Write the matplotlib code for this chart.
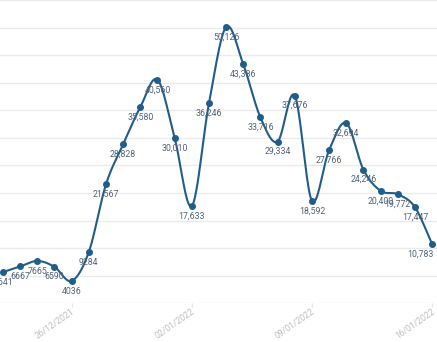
import numpy as np
import matplotlib.pyplot as plt
from matplotlib.transforms import ScaledTranslation

dates = ["22/12/2021", "23/12/2021", "24/12/2021", "25/12/2021", "26/12/2021",
         "27/12/2021", "28/12/2021", "29/12/2021", "30/12/2021", "31/12/2021",
         "01/01/2022", "02/01/2022", "03/01/2022", "04/01/2022", "05/01/2022",
         "06/01/2022", "07/01/2022", "08/01/2022", "09/01/2022", "10/01/2022",
         "11/01/2022", "12/01/2022", "13/01/2022", "14/01/2022", "15/01/2022",
         "16/01/2022"]
cases = [5641, 6667, 7665, 6590, 4036, 9284, 21567, 28828, 35580, 40560,
         30010, 17633, 36246, 50126, 43386, 33716, 29334, 37676, 18592, 27766,
         32694, 24246, 20400, 19772, 17447, 10783]
tick_every = 7

def smooth(x, y, n=20):
    # catmull-rom curve through the points, only for drawing the line
    x = np.asarray(x, float)
    y = np.asarray(y, float)
    px = np.concatenate([[2 * x[0] - x[1]], x, [2 * x[-1] - x[-2]]])
    py = np.concatenate([[2 * y[0] - y[1]], y, [2 * y[-1] - y[-2]]])
    xs, ys = [], []
    t = np.linspace(0, 1, n, endpoint=False)
    for i in range(1, len(px) - 2):
        for p, out in ((px, xs), (py, ys)):
            p0, p1, p2, p3 = p[i - 1], p[i], p[i + 1], p[i + 2]
            out.append(0.5 * ((2 * p1) + (-p0 + p2) * t
                              + (2 * p0 - 5 * p1 + 4 * p2 - p3) * t ** 2
                              + (-p0 + 3 * p1 - 3 * p2 + p3) * t ** 3))
    xs.append([x[-1]])
    ys.append([y[-1]])
    return np.concatenate(xs), np.concatenate(ys)

plt.rcParams['font.family'] = ['Roboto', 'DejaVu Sans']

fig = plt.figure(figsize=(4.37, 3.42), dpi=100)
ax = fig.add_axes([0, 0.1135, 1, 0.8865])

idx = np.arange(len(cases))
line_color = "#215d8a"
sx, sy = smooth(idx, cases)
ax.plot(sx, sy, color=line_color, lw=1.5, solid_capstyle="round", zorder=3)
ax.plot(idx, cases, "o", color=line_color, ms=4, zorder=4)

for i, v in zip(idx, cases):
    lab = f"{v:,}" if v >= 10000 else str(v)
    if i == len(cases) - 1:
        ax.annotate(lab, (i, v), xytext=(1, -4), textcoords="offset points",
                    ha="right", va="top", fontsize=6.3, color="#52627a", zorder=5)
    else:
        ax.annotate(lab, (i, v), xytext=(0, -4), textcoords="offset points",
                    ha="center", va="top", fontsize=6.3, color="#52627a", zorder=5)

ax.set_xlim(-0.175, 25.29)
ax.set_ylim(0, 55030)
ax.set_yticks(np.arange(0, 55001, 5000))
ax.yaxis.grid(True, color="#ebebeb", lw=1)
ax.set_axisbelow(True)
ax.tick_params(axis="y", length=0, labelleft=False)

ticks = idx[4::tick_every]
ax.set_xticks(ticks)
ax.set_xticklabels([dates[i] for i in ticks], rotation=35, ha="right", va="center",
                   rotation_mode="anchor", fontsize=6.2, color="#bdbdbd")
ax.tick_params(axis="x", length=3, color="#e6e6e6", pad=0)
shift = ScaledTranslation(2 / 100, -3 / 100, fig.dpi_scale_trans)
for lbl in ax.get_xticklabels():
    lbl.set_transform(lbl.get_transform() + shift)
for s in ax.spines.values():
    s.set_visible(False)

fig.savefig("out.png", dpi=100)
